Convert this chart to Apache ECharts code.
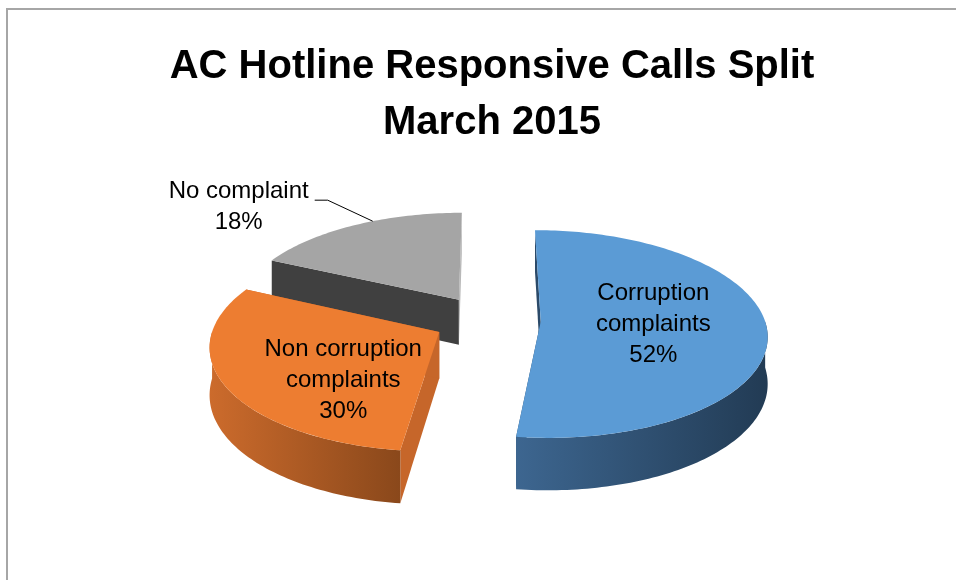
<!DOCTYPE html>
<html>
<head>
<meta charset="utf-8">
<title>AC Hotline Responsive Calls Split</title>
<script src="https://cdn.jsdelivr.net/npm/echarts@6/dist/echarts.min.js"></script>
<style>
    html, body { margin: 0; padding: 0; background: #fff; }
    #main { width: 956px; height: 580px; }
</style>
</head>
<body>
<div id="main"></div>
<script>
var categories = ['Corruption\ncomplaints', 'Non corruption\ncomplaints', 'No complaint'];
var values = [52, 30, 18];

var topColors = ['#5b9bd5', '#ed7d31', '#a5a5a5'];
var wallColors = [['#3d6690', '#223b54'], ['#cc6b2c', '#8a481b'], ['#454545', '#3a3a3a']];
var startSideColors = ['#2b4a69', '#c6662a', '#404040'];
var endSideColors = ['#2b4a69', '#c6662a', '#b8b8b8'];
var zOrder = [1, 2, 0]; // 后面的先画

// 3d pie layout
var cx = 487, cy = 320, rx = 224, ry = 102, depth = 46;
var explode = 0.24, persp = 0.12;
var labelNudge = [[0, 0], [8, 22], [0, 0]];
var font = "'Liberation Sans', Arial, sans-serif";

var total = 0;
for (var j = 0; j < values.length; j++) total += values[j];
var starts = [], ends = [];
var acc = 0;
for (var j = 0; j < values.length; j++) {
    starts[j] = acc / total * Math.PI * 2;
    acc += values[j];
    ends[j] = acc / total * Math.PI * 2;
}

// u: right, v: toward viewer, h: down
function project(u, v, h) {
    var s = 1 / (1 - persp * v);
    return [cx + u * rx * s, cy + (v * ry + h) * s];
}

function renderSlice(params, api) {
    var i = params.dataIndex;
    var val = api.value(0);
    var a = starts[i], b = ends[i], mid = (a + b) / 2;
    var ou = explode * Math.sin(mid), ov = -explode * Math.cos(mid);

    function pt(t, r, h) {
        return project(ou + r * Math.sin(t), ov - r * Math.cos(t), h);
    }
    function arc(t0, t1, h) {
        var pts = [];
        var n = Math.max(2, Math.ceil((t1 - t0) / 0.02));
        for (var k = 0; k <= n; k++) pts.push(pt(t0 + (t1 - t0) * k / n, 1, h));
        return pts;
    }

    var base = zOrder[i] * 10;
    var children = [];

    // radial sides
    [[a, startSideColors[i]], [b, endSideColors[i]]].forEach(function (side) {
        var t = side[0];
        children.push({
            type: 'polygon',
            shape: { points: [pt(t, 0, 0), pt(t, 1, 0), pt(t, 1, depth), pt(t, 0, depth)] },
            style: { fill: side[1] },
            z2: base + 1
        });
    });

    // outer wall, front half only
    var w0 = Math.max(a, Math.PI / 2), w1 = Math.min(b, Math.PI * 1.5);
    if (w1 > w0) {
        var pts = arc(w0, w1, 0).concat(arc(w0, w1, depth).reverse());
        children.push({
            type: 'polygon',
            shape: { points: pts },
            style: {
                fill: new echarts.graphic.LinearGradient(0, 0, 1, 0, [
                    { offset: 0, color: wallColors[i][0] },
                    { offset: 1, color: wallColors[i][1] }
                ])
            },
            z2: base + 2
        });
    }

    // top face
    children.push({
        type: 'polygon',
        shape: { points: [pt(a, 0, 0)].concat(arc(a, b, 0)) },
        style: { fill: topColors[i] },
        z2: base + 3
    });

    // label
    var text = categories[i] + '\n' + Math.round(val / total * 100) + '%';
    if (val / total < 0.2) {
        var p0 = pt(mid + 0.1, 1, 0);
        var p1 = [p0[0] - 45, p0[1] - 21];
        var p2 = [p1[0] - 13, p1[1]];
        children.push({
            type: 'polyline',
            shape: { points: [p0, p1, p2] },
            style: { stroke: '#000', lineWidth: 1, fill: null },
            z2: 100
        });
        children.push({
            type: 'text',
            x: p2[0] - 76,
            y: p2[1] + 7,
            style: {
                text: text, fill: '#000', fontSize: 24, fontFamily: font,
                align: 'center', verticalAlign: 'middle', lineHeight: 31
            },
            z2: 100
        });
    } else {
        var c = pt(mid, 0.5, 0);
        children.push({
            type: 'text',
            x: c[0] + labelNudge[i][0],
            y: c[1] + labelNudge[i][1],
            style: {
                text: text, fill: '#000', fontSize: 24, fontFamily: font,
                align: 'center', verticalAlign: 'middle', lineHeight: 31
            },
            z2: 100
        });
    }

    return { type: 'group', children: children };
}

var myChart = echarts.init(document.getElementById('main'));
var option = {
    backgroundColor: '#fff',
    animation: false,
    title: {
        text: 'AC Hotline Responsive Calls Split\nMarch 2015',
        left: 487,
        top: 34,
        textAlign: 'center',
        textStyle: {
            fontFamily: font,
            fontSize: 40,
            fontWeight: 'bold',
            lineHeight: 56,
            color: '#000'
        }
    },
    graphic: [{
        type: 'rect',
        shape: { x: 7, y: 9, width: 1000, height: 700 },
        style: { fill: null, stroke: '#a6a6a6', lineWidth: 2 },
        silent: true
    }],
    series: [{
        type: 'custom',
        coordinateSystem: 'none',
        renderItem: renderSlice,
        data: values
    }]
};
myChart.setOption(option);
</script>
</body>
</html>
